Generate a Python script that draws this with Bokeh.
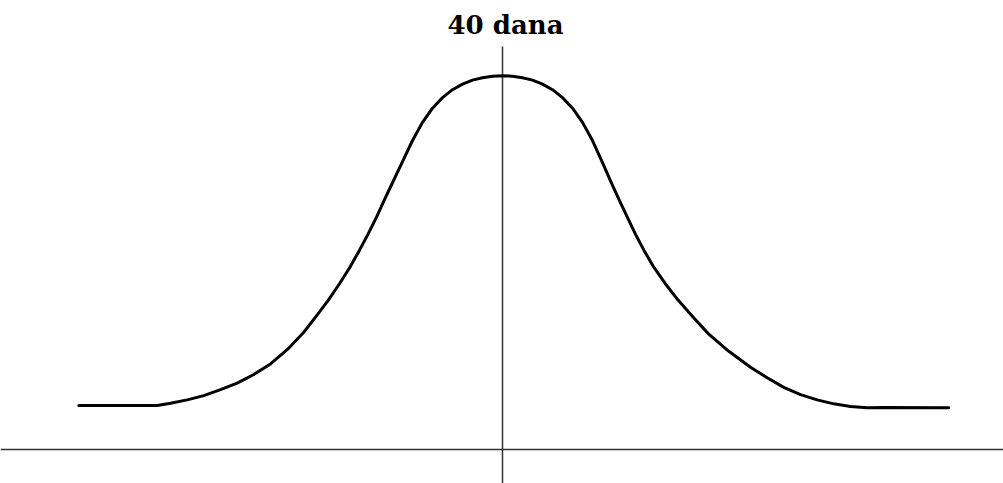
from bokeh.plotting import figure
from bokeh.models import Range1d, Span, Label
from bokeh.embed import file_html
from bokeh.resources import INLINE

# Curve values (x: horizontal units from the centre, y: relative height)
curve_x = [-4.237, -3.453, -3.320, -3.153, -2.987, -2.820, -2.653, -2.487, -2.320, -2.153,
           -1.987, -1.870, -1.745, -1.630, -1.526, -1.431, -1.343, -1.260, -1.180, -1.100,
           -1.000, -0.900, -0.800, -0.700, -0.600, -0.500, -0.400, -0.300, -0.200, -0.100,
           0.000,
           0.100, 0.200, 0.300, 0.400, 0.500, 0.600, 0.700, 0.800, 0.900, 1.000,
           1.090, 1.170, 1.248, 1.328, 1.415, 1.513, 1.628, 1.760, 1.905, 2.060,
           2.260, 2.480, 2.647, 2.813, 2.980, 3.147, 3.313, 3.480, 3.647,
           3.813, 4.463]
curve_y = [0.000, 0.000, 0.007, 0.017, 0.030, 0.048, 0.068, 0.094, 0.126, 0.169,
           0.222, 0.268, 0.318, 0.369, 0.419, 0.470, 0.520, 0.571, 0.624, 0.675,
           0.739, 0.803, 0.858, 0.901, 0.933, 0.957, 0.974, 0.986, 0.993, 0.998,
           0.999,
           0.998, 0.993, 0.986, 0.974, 0.957, 0.933, 0.901, 0.858, 0.803, 0.736,
           0.674, 0.621, 0.571, 0.520, 0.470, 0.419, 0.369, 0.318, 0.268, 0.217,
           0.165, 0.116, 0.084, 0.055, 0.033, 0.017, 0.005, -0.003, -0.007,
           -0.006, -0.007]
title_text = "40 dana"
center_x = 0.0

p = figure(width=1003, height=483, output_backend="svg", toolbar_location=None,
           x_range=Range1d(-5.02, 5.01), y_range=Range1d(-0.23636, 1.22727),
           min_border=0, background_fill_color="white", border_fill_color="white")
p.axis.visible = False
p.grid.visible = False
p.outline_line_color = None

# horizontal axis line
p.add_layout(Span(location=-0.1333, dimension="width", line_color="#333333", line_width=1.5))
# vertical centre line
p.segment(x0=[center_x], y0=[1.088], x1=[center_x], y1=[-0.23636],
          line_color="#333333", line_width=1.5)

# bell curve
p.line(curve_x, curve_y, line_color="black", line_width=3, line_join="round", line_cap="round")

p.add_layout(Label(x=center_x, y=1.1545, x_offset=3, text=title_text,
                   text_font="DejaVu Serif", text_font_style="bold", text_font_size="26px",
                   text_align="center", text_baseline="alphabetic", text_color="black"))

open("out.html", "w").write(file_html(p, INLINE))
